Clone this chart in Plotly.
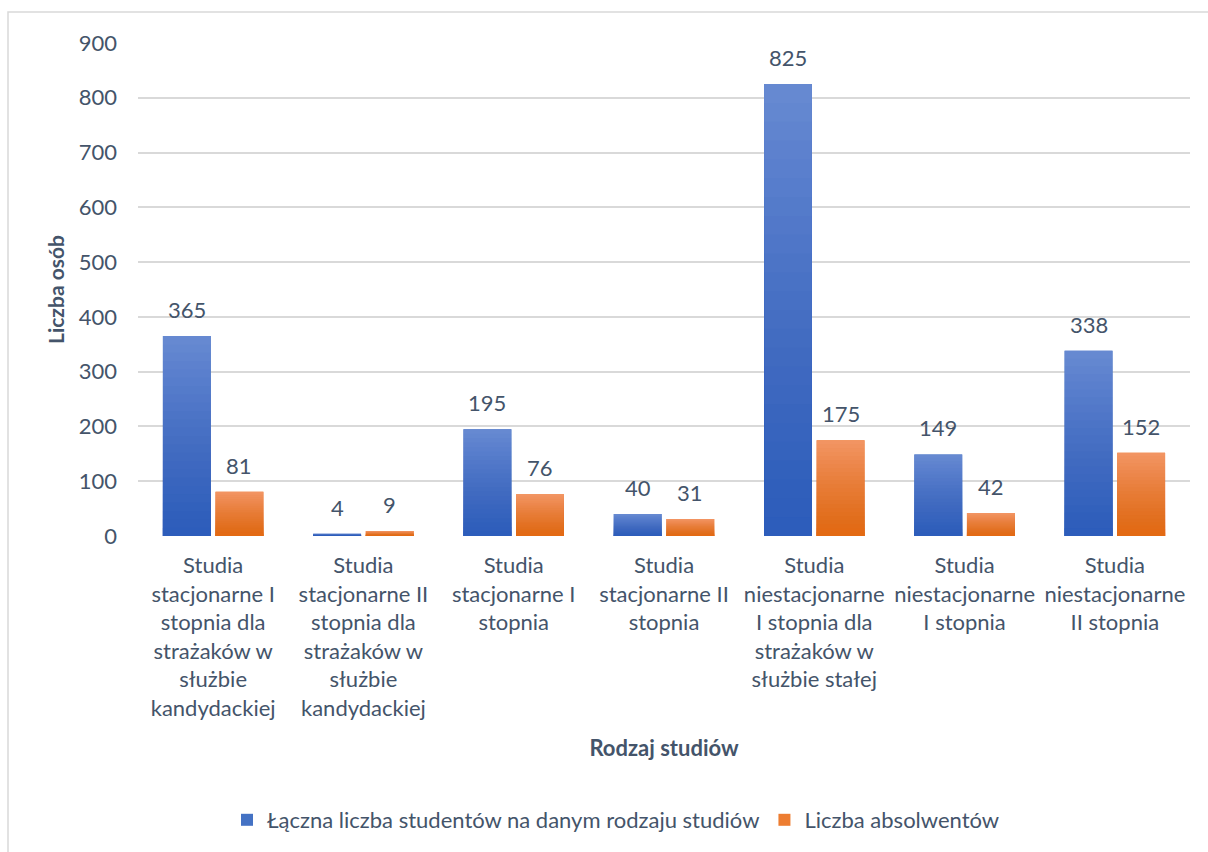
import plotly.graph_objects as go

categories = [
    "Studia<br>stacjonarne I<br>stopnia dla<br>strażaków w<br>służbie<br>kandydackiej",
    "Studia<br>stacjonarne II<br>stopnia dla<br>strażaków w<br>służbie<br>kandydackiej",
    "Studia<br>stacjonarne I<br>stopnia",
    "Studia<br>stacjonarne II<br>stopnia",
    "Studia<br>niestacjonarne<br>I stopnia dla<br>strażaków w<br>służbie stałej",
    "Studia<br>niestacjonarne<br>I stopnia",
    "Studia<br>niestacjonarne<br>II stopnia",
]
students = [365, 4, 195, 40, 825, 149, 338]
graduates = [81, 9, 76, 31, 175, 42, 152]
series_names = ["Łączna liczba studentów na danym rodzaju studiów", "Liczba absolwentów"]
y_ticks = [0, 100, 200, 300, 400, 500, 600, 700, 800, 900]
x_title = "Rodzaj studiów"
y_title = "Liczba osób"

FONT = "Lato"
FS = 22
TEXT = "#44546A"
GRID = "#D9D9D9"
W, H = 1208, 852
ML, MR, MT, MB = 138, 18, 43, 315
BARGAP = 0.3
BARGROUPGAP = 0.09
N = 24  # gradient steps

fig = go.Figure()


def add_series(values, name, group, top, bottom, mid):
    fig.add_bar(x=categories, y=values, name=name, offsetgroup=group,
                marker=dict(color=mid, line_width=0), hoverinfo="skip")
    fig.add_bar(x=categories, y=values, offsetgroup=group, showlegend=False,
                marker=dict(color=top, line_width=0), hoverinfo="skip")
    for m in range(1, N):
        frac = (N - m) / N
        fig.add_bar(x=categories, y=[v * frac for v in values], offsetgroup=group,
                    showlegend=False, hoverinfo="skip",
                    marker=dict(color=bottom, opacity=1.0 / (N - m), line_width=0))


add_series(students, series_names[0], "a", "#6689D1", "#2D5DBB", "#4472C4")
add_series(graduates, series_names[1], "b", "#F29462", "#E36A13", "#ED7D31")

plot_w = W - ML - MR
plot_h = H - MT - MB
slot = plot_w / len(categories) * (1 - BARGAP) / 2
annotations = []
for vals, sign in ((students, -1), (graduates, 1)):
    for c, v in zip(categories, vals):
        annotations.append(dict(x=c, y=v, text=str(v), showarrow=False,
                                xshift=sign * slot / 2, yshift=11, yanchor="bottom",
                                font=dict(family=FONT, size=FS, color=TEXT)))

fig.update_layout(
    width=W, height=H,
    margin=dict(l=ML, r=MR, t=MT, b=MB),
    paper_bgcolor="white", plot_bgcolor="white",
    barmode="group", bargap=BARGAP, bargroupgap=BARGROUPGAP,
    font=dict(family=FONT, size=FS, color=TEXT),
    showlegend=True,
    legend=dict(orientation="h", x=(616 - ML) / plot_w, xanchor="center",
                y=(MT + plot_h - 820) / plot_h, yanchor="middle",
                font=dict(family=FONT, size=FS, color=TEXT), traceorder="normal"),
    annotations=annotations,
    shapes=[dict(type="rect", xref="paper", yref="paper",
                 x0=(8 - ML) / plot_w, x1=(W + 10 - ML) / plot_w,
                 y0=(MT + plot_h - H - 10) / plot_h,
                 y1=(MT + plot_h - 12) / plot_h,
                 line=dict(color=GRID, width=1.5), fillcolor="rgba(0,0,0,0)", layer="below")],
)
fig.update_yaxes(range=[0, 900], tickvals=y_ticks, showgrid=True, gridcolor=GRID, gridwidth=1.5,
                 zeroline=False, showline=False, ticks="", ticklabelstandoff=20,
                 tickfont=dict(family=FONT, size=FS, color=TEXT),
                 title=dict(text=f"<b>{y_title}</b>", standoff=8,
                            font=dict(family=FONT, size=FS - 1, color=TEXT)))
fig.update_xaxes(showgrid=False, showline=False, zeroline=False, ticks="", ticklabelstandoff=14,
                 tickangle=0, tickfont=dict(family=FONT, size=FS, color=TEXT),
                 title=dict(text=f"<b>{x_title}</b>", standoff=20,
                            font=dict(family=FONT, size=FS, color=TEXT)))

fig.write_html("out.html", config={"displayModeBar": False},
               post_script="document.body.style.margin='0';document.body.style.overflow='hidden';")
